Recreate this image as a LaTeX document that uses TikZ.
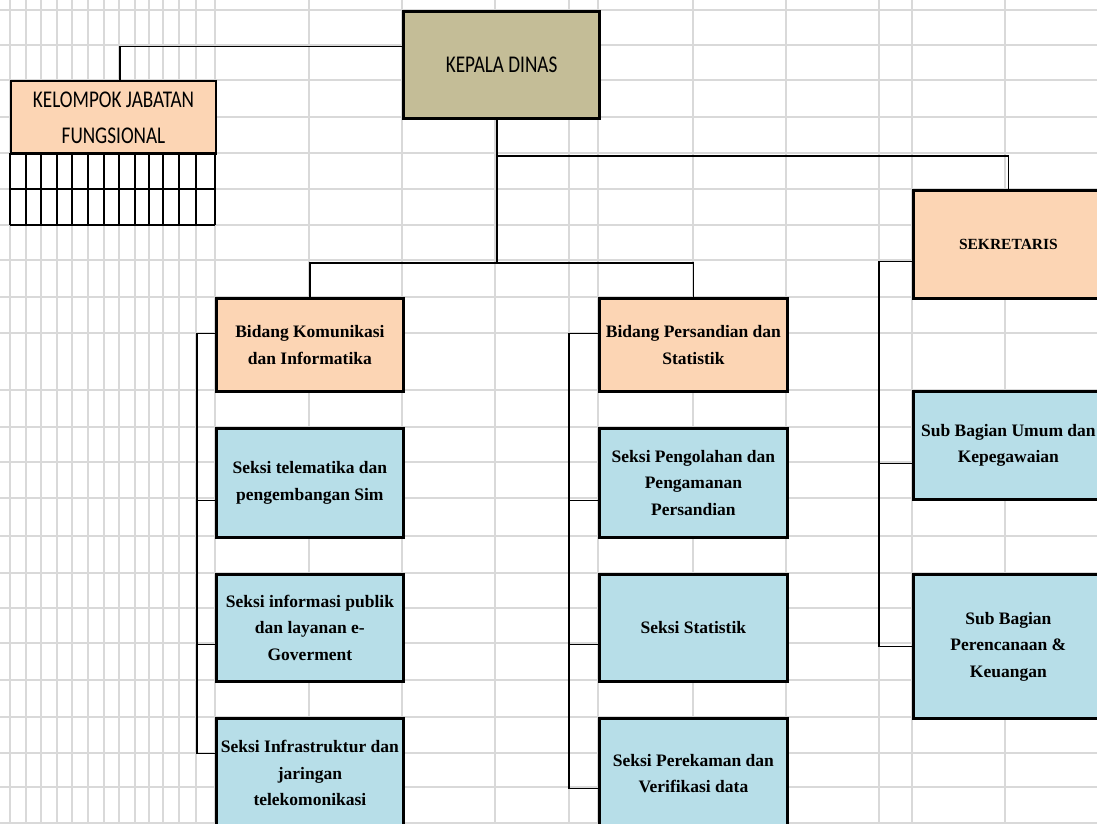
\documentclass[tikz,border=0pt]{standalone}
\usepackage{fontspec}
\newfontfamily\headfont[FakeStretch=0.8]{Carlito}
\newfontfamily\unitfont{Liberation Serif}
\definecolor{dinasTan}{HTML}{C4BD97}
\definecolor{dinasPeach}{HTML}{FCD5B4}
\definecolor{dinasBlue}{HTML}{B7DEE8}
\definecolor{sheetGrid}{HTML}{D9D9D9}

\begin{document}
\begin{tikzpicture}[x=1pt,y=-1pt]
\useasboundingbox (0,0) rectangle (1097,824);
\clip (0,0) rectangle (1097,824);
\path[fill=white] (0,0) rectangle (1097,824);
\tikzset{gridline/.style={draw=sheetGrid,line width=1.4pt},conn/.style={draw=black,line width=1.8pt},cell/.style={draw=black,line width=1.5pt},head/.style={draw=black,anchor=north west,inner sep=0pt,align=center,font=\headfont\fontsize{24}{36}\selectfont},unit/.style={draw=black,line width=2.8pt,anchor=north west,inner sep=1pt,align=center,font=\unitfont\bfseries\fontsize{17.5}{26.5}\selectfont},bidang/.style={unit,fill=dinasPeach},seksi/.style={unit,fill=dinasBlue}}
\foreach \gx in {10,26,41,57,72,88,104,119,135,149,163,179,196,215,309,402,495,569,598,693,786,879,912,1005} \draw[gridline] (\gx,0) -- (\gx,824);
\foreach \gy in {10,45,80,117,153,189,225,260,297,333,390,427,462,498,536,573,608,643,680,717,753,787,823} \draw[gridline] (0,\gy) -- (1097,\gy);
\node[head,fill=dinasTan,line width=3.2pt,minimum width=196pt,minimum height=107pt] (kepala) at (402,10) {KEPALA DINAS};
\node[head,fill=dinasPeach,line width=2pt,minimum width=205pt,minimum height=73pt] (kelompok) at (10,80) {KELOMPOK JABATAN\\FUNGSIONAL};
\foreach \cx in {10,26,41,57,72,88,104,119,135,149,163,179,196,215} \draw[cell] (\cx,153) -- (\cx,225);
\foreach \cy in {153,189,225} \draw[cell] (10,\cy) -- (215,\cy);
\node[bidang,minimum width=187pt,minimum height=93pt] (kom) at (215,297) {Bidang Komunikasi\\dan Informatika};
\node[seksi,minimum width=187pt,minimum height=109pt] (telem) at (215,427) {Seksi telematika dan\\pengembangan Sim};
\node[seksi,minimum width=187pt,minimum height=107pt] (publik) at (215,573) {Seksi informasi publik\\dan layanan e-\\Goverment};
\node[seksi,minimum width=187pt,minimum height=110pt] (infra) at (215,717) {Seksi Infrastruktur dan\\jaringan\\telekomonikasi};
\node[bidang,minimum width=188pt,minimum height=93pt] (sandi) at (598,297) {Bidang Persandian dan\\Statistik};
\node[seksi,minimum width=188pt,minimum height=109pt] (olah) at (598,427) {Seksi Pengolahan dan\\Pengamanan\\Persandian};
\node[seksi,minimum width=188pt,minimum height=107pt] (stat) at (598,573) {Seksi Statistik};
\node[seksi,minimum width=188pt,minimum height=110pt] (rekam) at (598,717) {Seksi Perekaman dan\\Verifikasi data};
\node[bidang,minimum width=190pt,minimum height=108pt,font=\unitfont\bfseries\fontsize{15.5}{26.5}\selectfont] (sekre) at (912,189) {SEKRETARIS};
\node[seksi,minimum width=190pt,minimum height=108pt] (umum) at (912,390) {Sub Bagian Umum dan\\Kepegawaian};
\node[seksi,minimum width=190pt,minimum height=144pt] (renc) at (912,573) {Sub Bagian\\Perencanaan \&\\Keuangan};
\draw[conn] ([xshift=6.5pt]kelompok.north) |- ([yshift=18.5pt]kepala.west);
\draw[conn] ([xshift=-5pt]kepala.south) -- ++(0,143) coordinate (split);
\draw[conn] (kom.north) |- (split) -| (sandi.north);
\draw[conn] ([xshift=-5pt,yshift=-36pt]kepala.south) -| (sekre.north);
\draw[conn] ([yshift=11.5pt]kom.west) -- ++(-18,0) |- ([yshift=20pt]infra.west);
\foreach \n/\s in {telem/-17.5,publik/-16.5} \draw[conn] ([yshift=\s pt]\n.west) -- ++(-18,0);
\draw[conn] ([yshift=11.5pt]sandi.west) -- ++(-29,0) |- ([yshift=-15pt]rekam.west);
\foreach \n/\s in {olah/-17.5,stat/-16.5} \draw[conn] ([yshift=\s pt]\n.west) -- ++(-29,0);
\draw[conn] ([yshift=-17pt]sekre.west) -- ++(-33,0) |- (renc.west);
\draw[conn] ([yshift=-18pt]umum.west) -- ++(-33,0);
\end{tikzpicture}
\end{document}
